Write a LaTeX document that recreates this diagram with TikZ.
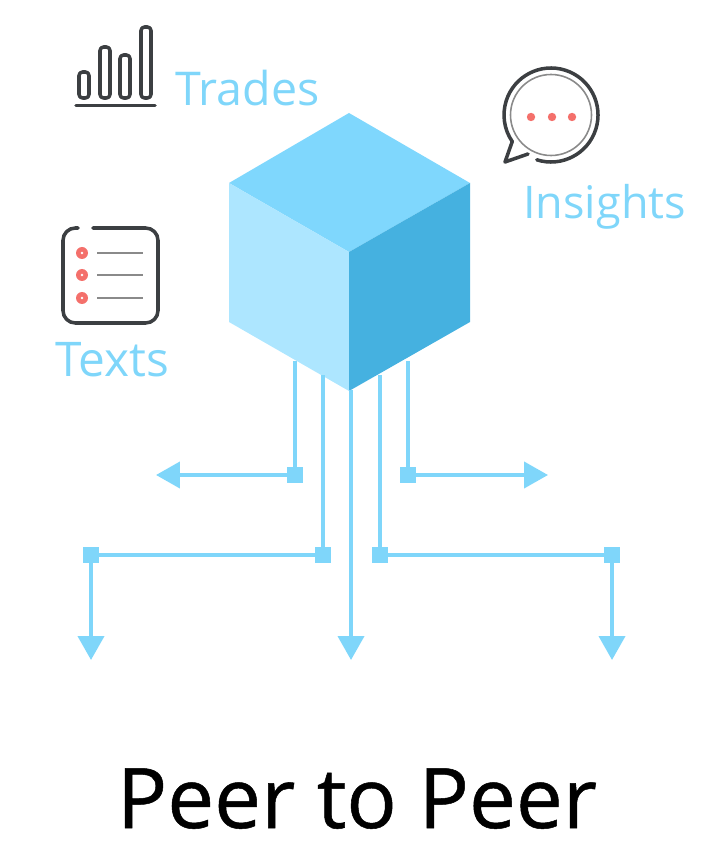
\documentclass[tikz,border=0pt]{standalone}
\usepackage{fontspec}
\usepackage{xcolor}
\usetikzlibrary{arrows.meta}
\setmainfont{Open Sans}
\newfontfamily\titlefont[FakeBold=0.6]{Open Sans}
\definecolor{flow}{RGB}{127, 214, 250}
\definecolor{cubetop}{RGB}{127, 215, 253}
\definecolor{cubeleft}{RGB}{173, 230, 255}
\definecolor{cuberight}{RGB}{69, 177, 224}
\definecolor{iconline}{RGB}{60, 63, 66}
\definecolor{icongray}{RGB}{138, 138, 138}
\definecolor{iconred}{RGB}{244, 112, 107}
\tikzset{
  flowline/.style={draw=flow, line width=2.1pt},
  flowarrow/.style={flowline, -{Triangle[length=13.6pt,width=14.8pt]}},
  junction/.style={rectangle, fill=flow, minimum size=8.8pt, inner sep=0pt, outer sep=0pt},
  caption/.style={text=flow, font=\fontsize{26.5}{30}\selectfont, anchor=base west, inner sep=0pt},
  iconstroke/.style={draw=iconline, line width=2pt, line cap=round, line join=round}
}
\begin{document}
\begin{tikzpicture}[x=0.02cm,y=-0.02cm]
\useasboundingbox (0,0) rectangle (700,854);
% Cube faces
\fill[cubetop] (349,113) -- (470,183) -- (349,252) -- (229,183) -- cycle;
\fill[cubeleft] (229,183) -- (349,252) -- (349,391) -- (229,322) -- cycle;
\fill[cuberight] (470,183) -- (349,252) -- (349,391) -- (470,322) -- cycle;
% Free ends of the connectors
\coordinate (startA) at (295,361);
\coordinate (startB) at (323,375);
\coordinate (startC) at (351,390);
\coordinate (startD) at (380,375);
\coordinate (startE) at (408,361);
\coordinate (tipA) at (156,475);
\coordinate (tipB) at (91,660);
\coordinate (tipC) at (351,660);
\coordinate (tipD) at (612,660);
\coordinate (tipE) at (548,475);
% Junctions
\node[junction] (upperleft) at (295,475) {};
\node[junction] (upperright) at (408,475) {};
\node[junction] (innerleft) at (323,555) {};
\node[junction] (innerright) at (380,555) {};
\node[junction] (outerleft) at (91,555) {};
\node[junction] (outerright) at (612,555) {};
% Connectors
\draw[flowline] (startA) -- (upperleft);
\draw[flowline] (startB) -- (innerleft);
\draw[flowline] (startD) -- (innerright);
\draw[flowline] (startE) -- (upperright);
\draw[flowline] (innerleft) -- (outerleft);
\draw[flowline] (innerright) -- (outerright);
\draw[flowarrow] (upperleft) -- (tipA);
\draw[flowarrow] (upperright) -- (tipE);
\draw[flowarrow] (outerleft) -- (tipB);
\draw[flowarrow] (startC) -- (tipC);
\draw[flowarrow] (outerright) -- (tipD);
% Trades icon
\foreach \x/\y in {79/72, 100/47, 120/55, 141/27} {
    \draw[iconstroke, rounded corners=2pt] (\x,\y) rectangle (\x+10,98);
}
\draw[iconstroke] (76,105.5) -- (155,105.5);
% Insights icon
\draw[iconstroke] (536.8,159.8) arc[start angle=107.6, end angle=-214.4, radius=47] -- (505,162) -- (528,154);
\draw[icongray, line width=0.9pt] (551,115) circle (40.5);
\foreach \x in {531,552,572} {
    \fill[iconred] (\x,117) circle (4.2);
}
% Texts icon
\draw[iconstroke, rounded corners=7pt] (78,228) -- (63,228) -- (63,323) -- (158,323) -- (158,228) -- (93,228);
\foreach \y in {253,275,298} {
    \fill[iconred] (82,\y) circle (6);
    \fill[white] (82,\y) circle (1.3);
    \draw[icongray, line width=0.9pt] (97,\y) -- (143,\y);
}
% Labels
\node[caption] (trades) at (175,106) {Trades};
\node[caption, font=\fontsize{25.6}{30}\selectfont] (insights) at (523,219) {Insights};
\node[caption, font=\fontsize{27.2}{30}\selectfont] (texts) at (55,376.5) {Texts};
\node[anchor=base, inner sep=0pt, font=\titlefont\fontsize{47.6}{54}\selectfont] (title) at (357,828) {Peer to Peer};
\end{tikzpicture}
\end{document}
